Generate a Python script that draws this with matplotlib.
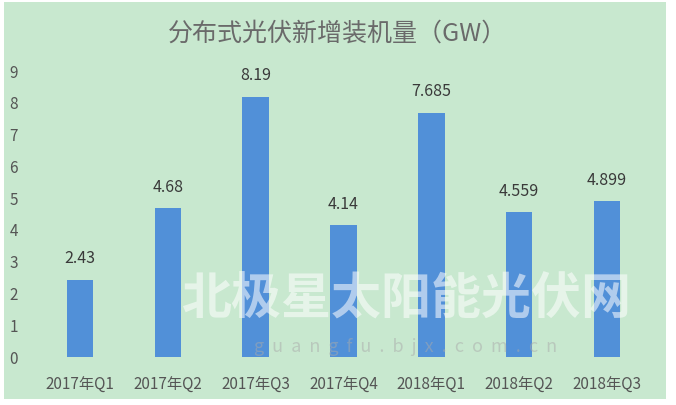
import matplotlib.pyplot as plt
from matplotlib.patches import Rectangle

plt.rcParams['font.family'] = ['Noto Sans CJK SC', 'DejaVu Sans']

quarters = ["2017年Q1", "2017年Q2", "2017年Q3", "2017年Q4",
            "2018年Q1", "2018年Q2", "2018年Q3"]
capacity = [2.43, 4.68, 8.19, 4.14, 7.685, 4.559, 4.899]
labels = ["2.43", "4.68", "8.19", "4.14", "7.685", "4.559", "4.899"]

bg = "#c8e8cf"
bar_color = "#5190d8"
text_color = "#555555"

fig = plt.figure(figsize=(6.76, 4.05), dpi=100)
fig.patch.set_facecolor("white")
# green card behind the chart
fig.patches.append(Rectangle((4 / 676, 6 / 405), 662 / 676, 397 / 405,
                             transform=fig.transFigure, facecolor=bg,
                             edgecolor="none", zorder=-1))

ax = fig.add_axes([36 / 676, 48 / 405, 615 / 676, 286 / 405])
ax.set_facecolor("none")
x = range(len(quarters))
ax.bar(x, capacity, width=0.30, color=bar_color, zorder=2)
for xi, v, lab in zip(x, capacity, labels):
    ax.annotate(lab, (xi, v), xytext=(0, 15), textcoords="offset points",
                ha="center", va="center", fontsize=11.5, color="#3a3a3a")

ax.set_xlim(-0.5, len(quarters) - 0.5)
ax.set_ylim(0, 9)
ax.set_yticks(range(10))
ax.set_xticks(list(x))
ax.set_xticklabels(quarters)
ax.tick_params(length=0, labelsize=11, colors=text_color)
ax.tick_params(axis="y", pad=13)
ax.tick_params(axis="x", pad=14)
for s in ax.spines.values():
    s.set_visible(False)

fig.text(0.5, 0.918, "分布式光伏新增装机量（GW）", ha="center", va="center",
         fontsize=18, color="#6a6a6a", fontweight="light")

# faint watermark
fig.text(0.6, 0.26, "北极星太阳能光伏网", ha="center", va="center",
         fontsize=36, color="white", alpha=0.55, fontweight="bold", zorder=5)
fig.text(0.6, 0.143, "g  u  a  n  g  f  u  .  b  j  x  .  c  o  m  .  c  n",
         ha="center", va="center", fontsize=13, color="#aaaaaa", alpha=0.5,
         zorder=5)

fig.savefig("out.png", dpi=100)
